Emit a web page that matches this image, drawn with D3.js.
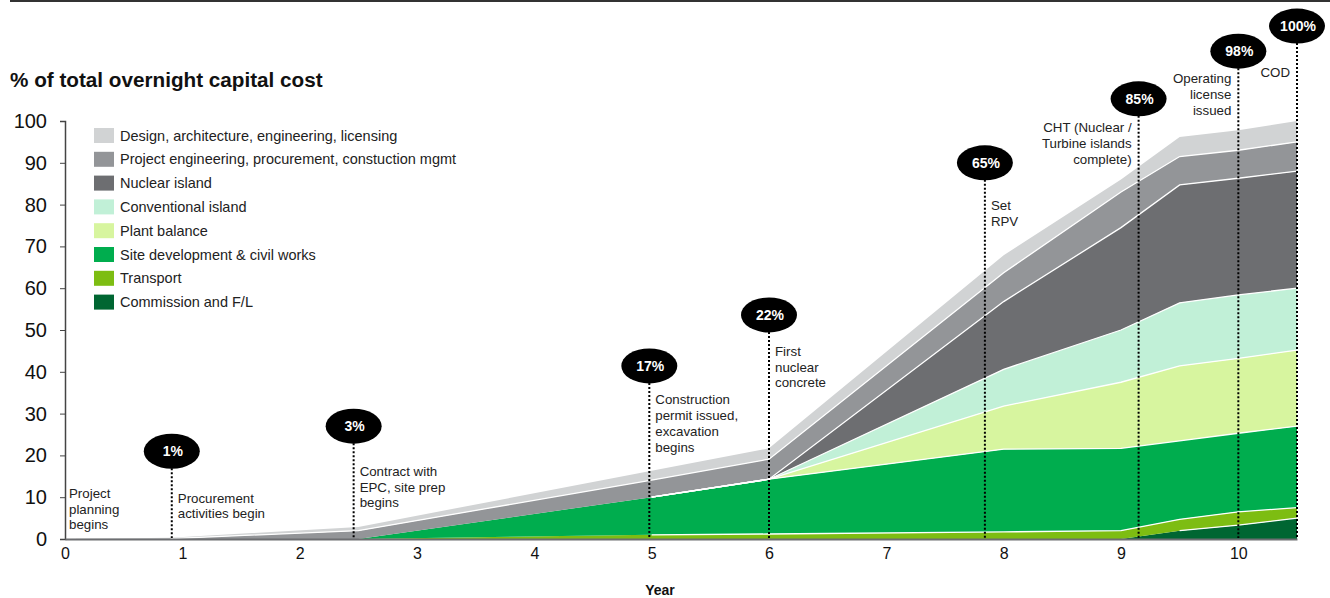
<!DOCTYPE html>
<html>
<head>
<meta charset="utf-8">
<script src="https://cdn.jsdelivr.net/npm/d3@7"></script>
<style>
  html, body { margin: 0; padding: 0; background: #fff; }
  svg { display: block; font-family: 'Liberation Sans', Arial, sans-serif; }
</style>
</head>
<body>
<div id="chart"></div>
<script>
// time points (years) where the cost curves bend
const years = [0, 0.9, 2.5, 5, 6, 8, 9, 9.5, 10, 10.5]

// share of total cost per category, % (stacked bottom -> top)
const commission = [0, 0, 0, 0, 0, 0, 0, 2, 3.3, 5]
const transport = [0, 0, 0, 1, 1.2, 1.7, 2, 2.7, 3.2, 2.5]
const siteDev = [0, 0, 0, 9, 13.1, 19.8, 19.7, 18.8, 18.8, 19.5]
const plantBalance = [0, 0, 0, 0, 0, 10.3, 15.8, 17.9, 17.9, 18.2]
const convIsland = [0, 0, 0, 0, 0, 8.8, 12.5, 15.1, 15.2, 14.8]
const nuclearIsland = [0, 0, 0, 0, 0, 16.2, 24.5, 28.2, 27.9, 28]
const projEng = [0, 0.1, 2, 4.1, 4.8, 6.9, 8.5, 6.8, 6.7, 7]
const design = [0, 0.2, 0.9, 2.2, 2.6, 4.2, 3, 4.7, 4.8, 5]

const seriesNames = ['Commission and F/L', 'Transport', 'Site development & civil works', 'Plant balance',
  'Conventional island', 'Nuclear island', 'Project engineering, procurement, constuction mgmt',
  'Design, architecture, engineering, licensing']
const seriesValues = [commission, transport, siteDev, plantBalance, convIsland, nuclearIsland, projEng, design]
const seriesColors = ['#006632', '#7dbd12', '#00ad4e', '#d7f59f', '#c1f0d7', '#6d6e71', '#939598', '#d1d3d4']

const xTicks = [0, 1, 2, 3, 4, 5, 6, 7, 8, 9, 10]
const yTicks = [0, 10, 20, 30, 40, 50, 60, 70, 80, 90, 100]

// milestones: year of the dotted line, bubble label, bubble level (in y units)
const milestoneYears = [0.91, 2.46, 4.98, 6, 7.84, 9.15, 10, 10.5]
const milestoneLabels = ['1%', '3%', '17%', '22%', '65%', '85%', '98%', '100%']
const bubbleLevels = [21, 27, 41.4, 53.6, 90, 105.3, 116.7, 122.7]

// milestone notes
const noteYears = [0, 0.91, 2.46, 4.98, 6, 7.84, 9.15, 10, 10.5]
const noteLines = [
  ['Project', 'planning', 'begins'],
  ['Procurement', 'activities begin'],
  ['Contract with', 'EPC, site prep', 'begins'],
  ['Construction', 'permit issued,', 'excavation', 'begins'],
  ['First', 'nuclear', 'concrete'],
  ['Set', 'RPV'],
  ['CHT (Nuclear /', 'Turbine islands', 'complete)'],
  ['Operating', 'license', 'issued'],
  ['COD']
]
const noteLevels = [9.8, 8.7, 15.1, 32.2, 43.8, 78.7, 97.3, 109, 110.5]
const noteSides = ['right', 'right', 'right', 'right', 'right', 'right', 'left', 'left', 'left']

const W = 1330
const H = 598

const svg = d3.select('#chart')
  .append('svg')
  .attr('width', W)
  .attr('height', H)

const x = d3.scaleLinear().domain([0, 10.5]).range([65, 1297])
const y = d3.scaleLinear().domain([0, 100]).range([539, 121])

// top rule
svg.append('line')
  .attr('x1', 10).attr('x2', W)
  .attr('y1', 1).attr('y2', 1)
  .attr('stroke', '#333')
  .attr('stroke-width', 2)

svg.append('text')
  .attr('x', 10)
  .attr('y', 87)
  .attr('font-size', 20.7)
  .attr('font-weight', 'bold')
  .attr('fill', '#111')
  .text('% of total overnight capital cost')

// stacked table
const keys = seriesNames
const table = years.map((yr, i) => {
  const row = { year: yr }
  keys.forEach((k, j) => { row[k] = seriesValues[j][i] })
  return row
})
const stacked = d3.stack().keys(keys)(table)

const area = d3.area()
  .x((d) => x(d.data.year))
  .y0((d) => y(d[0]))
  .y1((d) => y(d[1]))

const topLine = d3.line()
  .x((d) => x(d.data.year))
  .y((d) => y(d[1]))

const g = svg.append('g')

g.selectAll('.layer')
  .data(stacked)
  .enter()
  .append('path')
  .attr('class', 'layer')
  .attr('d', area)
  .attr('fill', (d, i) => seriesColors[i])

// white separators between layers
g.selectAll('.sep')
  .data(stacked.slice(0, stacked.length - 1))
  .enter()
  .append('path')
  .attr('class', 'sep')
  .attr('d', (d) => topLine(d.filter((p) => p[1] > 0.05)))
  .attr('fill', 'none')
  .attr('stroke', '#fff')
  .attr('stroke-width', 1.3)

// axes
const yAxis = svg.append('g')
  .attr('transform', `translate(${x(0)},0)`)
  .call(d3.axisLeft(y).tickValues(yTicks).tickSize(5).tickPadding(13))
yAxis.select('.domain').attr('stroke', '#444').attr('stroke-width', 1.5)
yAxis.selectAll('.tick line').attr('stroke', '#444')
yAxis.selectAll('.tick text')
  .attr('font-size', 20)
  .attr('font-family', "'Liberation Sans', Arial, sans-serif")
  .attr('fill', '#111')

const xAxis = svg.append('g')
  .attr('transform', `translate(0,${y(0)})`)
  .call(d3.axisBottom(x).tickValues(xTicks).tickSize(0).tickPadding(9).tickSizeOuter(0))
xAxis.select('.domain').attr('stroke', '#6d6e71').attr('stroke-width', 2)
xAxis.selectAll('.tick text')
  .attr('font-size', 16)
  .attr('font-family', "'Liberation Sans', Arial, sans-serif")
  .attr('fill', '#111')

svg.append('text')
  .attr('x', 660)
  .attr('y', 595)
  .attr('text-anchor', 'middle')
  .attr('font-size', 14)
  .attr('font-weight', 'bold')
  .attr('fill', '#111')
  .text('Year')

// legend
const legend = svg.append('g').attr('transform', 'translate(94,128)')
const legendOrder = d3.range(seriesNames.length).reverse()
legendOrder.forEach((si, i) => {
  const row = legend.append('g').attr('transform', `translate(0,${i * 23.8})`)
  row.append('rect')
    .attr('width', 20)
    .attr('height', 15)
    .attr('fill', seriesColors[si])
  row.append('text')
    .attr('x', 26)
    .attr('y', 12.5)
    .attr('font-size', 14.5)
    .attr('fill', '#222')
    .text(seriesNames[si])
})

// milestones
const ms = svg.append('g')
milestoneYears.forEach((yr, i) => {
  const cx = x(yr)
  const cy = y(bubbleLevels[i])
  ms.append('line')
    .attr('x1', cx).attr('x2', cx)
    .attr('y1', cy + 17).attr('y2', y(0) - 1)
    .attr('stroke', '#000')
    .attr('stroke-width', 2)
    .attr('stroke-dasharray', '2,2')
  ms.append('ellipse')
    .attr('cx', cx)
    .attr('cy', cy)
    .attr('rx', 28)
    .attr('ry', 17.5)
    .attr('fill', '#000')
  ms.append('text')
    .attr('x', cx + 1)
    .attr('y', cy + 5)
    .attr('text-anchor', 'middle')
    .attr('font-size', 14)
    .attr('font-weight', 'bold')
    .attr('fill', '#fff')
    .text(milestoneLabels[i])
})

noteYears.forEach((yr, i) => {
  const left = noteSides[i] === 'left'
  const tx = left ? x(yr) - 7 : x(yr) + (yr === 0 ? 4 : 6)
  const t = ms.append('text')
    .attr('x', tx)
    .attr('y', y(noteLevels[i]))
    .attr('text-anchor', left ? 'end' : 'start')
    .attr('font-size', 13.3)
    .attr('fill', '#222')
  noteLines[i].forEach((line, j) => {
    t.append('tspan')
      .attr('x', tx)
      .attr('dy', j === 0 ? 0 : 15.7)
      .text(line)
  })
})
</script>
</body>
</html>
